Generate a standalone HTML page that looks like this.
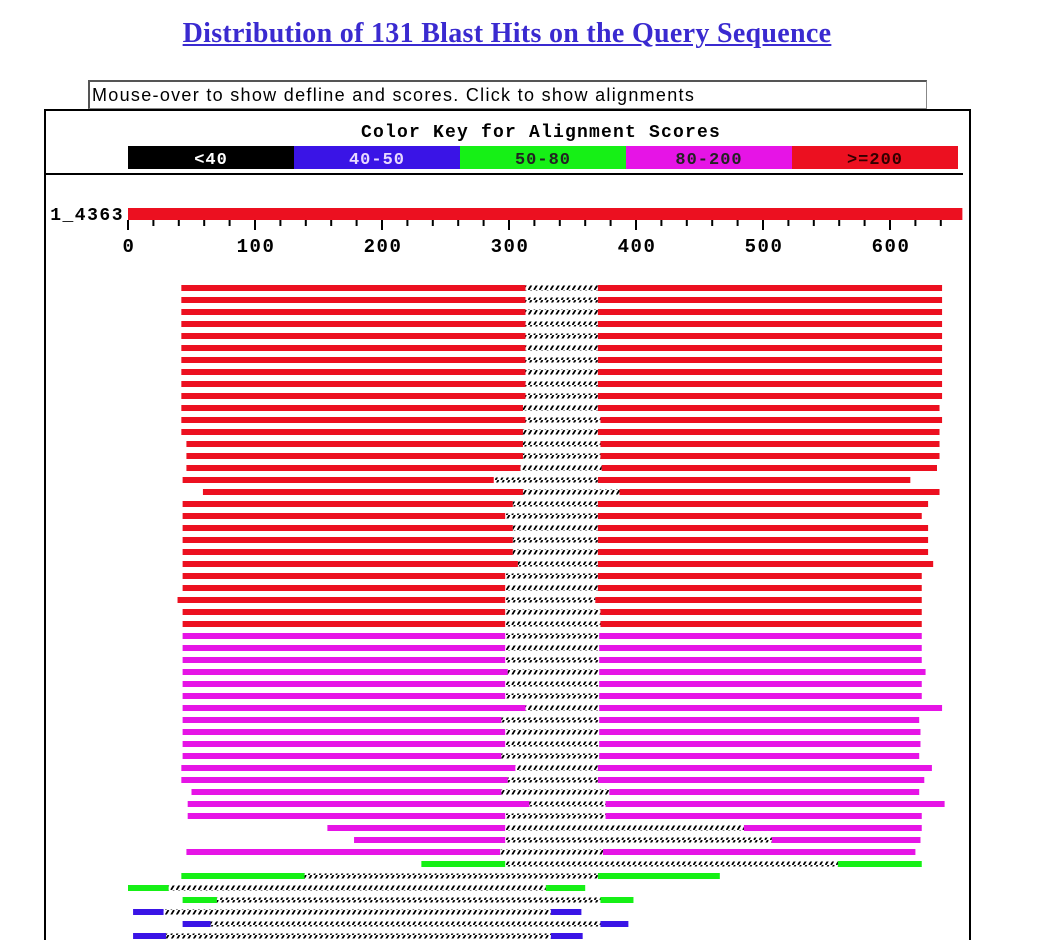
<!DOCTYPE html>
<html><head><meta charset="utf-8">
<style>
body{margin:0;background:#fff;width:1044px;height:940px;overflow:hidden;position:relative;font-family:"Liberation Sans",sans-serif}
#title{position:absolute;left:0;width:1014px;top:18px;text-align:center;font-family:"Liberation Serif",serif;font-weight:bold;font-size:28px;color:#3a2ad0;text-decoration:underline;letter-spacing:0.3px}
#info{position:absolute;left:88px;top:80px;width:834px;height:26px;border:1px solid #888;border-top:2px solid #555;border-left:2px solid #555;font-size:18px;letter-spacing:1.3px;line-height:26px;padding-left:2px;box-sizing:content-box;white-space:nowrap;overflow:hidden}
svg{position:absolute;left:0;top:0}
</style></head><body>
<div id="title">Distribution of 131 Blast Hits on the Query Sequence</div>
<div id="info">Mouse-over to show defline and scores. Click to show alignments</div>
<svg id="chart" width="1044" height="940">
<defs>
<pattern id="hatch" width="5.5" height="5" patternUnits="userSpaceOnUse">
<line x1="0.5" y1="5" x2="3.5" y2="0" stroke="#000" stroke-width="1.8"/>
</pattern>
</defs>
<rect x="44" y="109" width="926" height="2" fill="#000"/>
<rect x="44" y="109" width="2" height="831" fill="#000"/>
<rect x="969" y="109" width="2" height="831" fill="#000"/>
<text x="541" y="137" text-anchor="middle" font-family="Liberation Mono,monospace" font-weight="bold" font-size="18" letter-spacing="1.2">Color Key for Alignment Scores</text>
<g id="legend"></g>
<rect x="44" y="173" width="919" height="2" fill="#000"/>
<text x="124" y="220" text-anchor="end" font-family="Liberation Mono,monospace" font-weight="bold" font-size="18" letter-spacing="1.5">1_4363</text>
<g id="axis"></g>
<g id="hits"></g>
</svg>
<script>
const legendLabels=["<40","40-50","50-80","80-200",">=200"];
const legendColors=["#000000","#3a14e6","#16f016","#e614e6","#ec1020"];
const queryLength=657;
const tickValues=[0,100,200,300,400,500,600];
// hits: start, gapStart, gapEnd, end (sequence units), score class index
const hitStart=[42,42,42,42,42,42,42,42,42,42,42,42,42,46,46,46,43,59,43,43,43,43,43,43,43,43,39,43,43,
43,43,43,43,43,43,43,43,43,43,43,42,42,50,47,47,157,178,46,
231,42,0,43,4,43,4];
const hitGapStart=[313,313,313,313,313,313,313,313,313,313,311,313,311,311,311,309,288,311,303,297,303,303,303,307,297,297,297,297,297,
297,297,297,299,297,297,313,294,297,297,294,305,299,294,316,297,297,297,293,
297,139,32,70,28,65,30];
const hitGapEnd=[370,370,370,370,370,370,370,370,370,370,370,372,370,372,372,373,370,387,370,370,370,370,370,370,370,370,368,372,372,
371,371,371,371,371,371,371,371,371,371,371,370,370,379,376,376,485,507,374,
559,370,329,372,333,372,333];
const hitEnd=[641,641,641,641,641,641,641,641,641,641,639,641,639,639,639,637,616,639,630,625,630,630,630,634,625,625,625,625,625,
625,625,625,628,625,625,641,623,624,624,623,633,627,623,643,625,625,624,620,
625,466,360,398,357,394,358];
const hitClass=[4,4,4,4,4,4,4,4,4,4,4,4,4,4,4,4,4,4,4,4,4,4,4,4,4,4,4,4,4,
3,3,3,3,3,3,3,3,3,3,3,3,3,3,3,3,3,3,3,
2,2,2,2,1,1,1];

const NS="http://www.w3.org/2000/svg";
const x0=128,scale=1.27;
const xs=v=>x0+v*scale;
function mk(tag,attrs,parent){const e=document.createElementNS(NS,tag);for(const k in attrs)e.setAttribute(k,attrs[k]);parent.appendChild(e);return e;}
const lg=document.getElementById('legend');
const segW=(958-128)/legendLabels.length;
legendLabels.forEach((l,i)=>{
  const r=mk('rect',{x:128+i*segW,y:146,width:segW,height:23,fill:legendColors[i]},lg);
  
  
  const t=mk('text',{x:128+i*segW+segW/2,y:164,'text-anchor':'middle','font-family':'Liberation Mono,monospace','font-weight':'bold','font-size':'17','letter-spacing':'1',fill:i===0?'#fff':(i===1?'#e8d8ff':(i===4?'#300':'#222'))},lg);
  t.textContent=l;
  
  
});
const ax=document.getElementById('axis');
const qb=mk('rect',{x:xs(0),y:208,width:xs(queryLength)-xs(0),height:12,fill:legendColors[4]},ax);


for(let v=0;v<=queryLength;v+=20){
  const major=v%100===0;
  const tk=mk('rect',{x:xs(v)-1,y:220,width:2,height:major?10:6,fill:'#000'},ax);
  
  
}
tickValues.forEach(v=>{
  const t=mk('text',{x:xs(v)+1,y:252,'text-anchor':'middle','font-family':'Liberation Mono,monospace','font-weight':'bold','font-size':'19','letter-spacing':'1.5'},ax);
  t.textContent=v;
  
  
});
const hg=document.getElementById('hits');
for(let i=0;i<hitStart.length;i++){
  const y=288+i*12;
  const c=legendColors[hitClass[i]];
  const g=mk('g',{},hg);
  
  
  const a=mk('rect',{x:xs(hitStart[i]),y:y-3,width:xs(hitGapStart[i])-xs(hitStart[i]),height:6,fill:c},g);
  
  
  const h=mk('rect',{x:xs(hitGapStart[i]),y:y-2.5,width:xs(hitGapEnd[i])-xs(hitGapStart[i]),height:5,fill:'url(#hatch)'},g);
  
  
  const b=mk('rect',{x:xs(hitGapEnd[i]),y:y-3,width:xs(hitEnd[i])-xs(hitGapEnd[i]),height:6,fill:c},g);
  
  
}
</script>
</body></html>
